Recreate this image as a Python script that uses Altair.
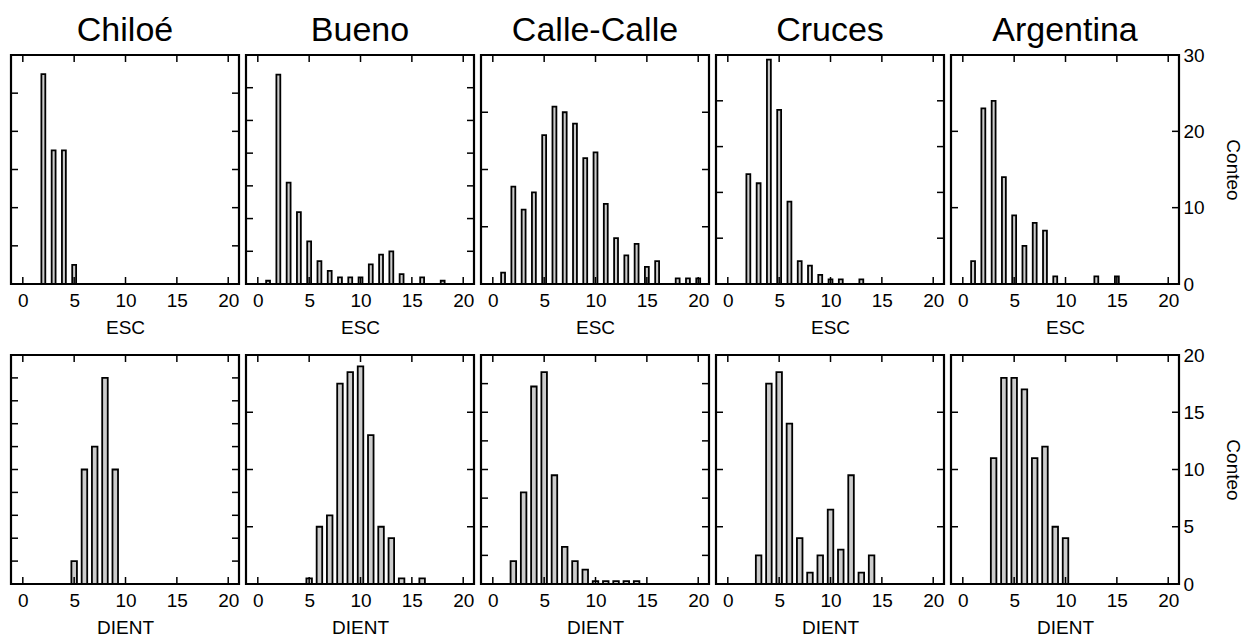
import altair as alt
import pandas as pd

sites = ["Chiloé", "Bueno", "Calle-Calle", "Cruces", "Argentina"]

# ESC histograms (value, count)
chiloe_esc_x = [2, 3, 4, 5]
chiloe_esc_n = [11, 7, 7, 1]
bueno_esc_x = [1, 2, 3, 4, 5, 6, 7, 8, 9, 10, 11, 12, 13, 14, 16, 18]
bueno_esc_n = [1, 64, 31, 22, 13, 7, 4, 2, 2, 2, 6, 9, 10, 3, 2, 1]
calle_esc_x = [1, 2, 3, 4, 5, 6, 7, 8, 9, 10, 11, 12, 13, 14, 15, 16, 18, 19, 20]
calle_esc_n = [2, 17, 13, 16, 26, 31, 30, 28, 22, 23, 14, 8, 5, 7, 3, 4, 1, 1, 1]
cruces_esc_x = [2, 3, 4, 5, 6, 7, 8, 9, 10, 11, 13]
cruces_esc_n = [24, 22, 49, 38, 18, 5, 4, 2, 1, 1, 1]
argent_esc_x = [1, 2, 3, 4, 5, 6, 7, 8, 9, 13, 15]
argent_esc_n = [3, 23, 24, 14, 9, 5, 8, 7, 1, 1, 1]

# DIENT histograms (value, count)
chiloe_dient_x = [5, 6, 7, 8, 9]
chiloe_dient_n = [1, 5, 6, 9, 5]
bueno_dient_x = [5, 6, 7, 8, 9, 10, 11, 12, 13, 14, 16]
bueno_dient_n = [1, 10, 12, 35, 37, 38, 26, 10, 8, 1, 1]
calle_dient_x = [2, 3, 4, 5, 6, 7, 8, 9, 10, 11, 12, 13, 14]
calle_dient_n = [8, 32, 69, 74, 38, 13, 8, 5, 1, 1, 1, 1, 1]
cruces_dient_x = [3, 4, 5, 6, 7, 8, 9, 10, 11, 12, 13, 14]
cruces_dient_n = [5, 35, 37, 28, 8, 2, 5, 13, 6, 19, 2, 5]
argent_dient_x = [3, 4, 5, 6, 7, 8, 9, 10]
argent_dient_n = [11, 18, 18, 17, 11, 12, 5, 4]

# per-panel y scales (max, tick step)
esc_ymax = [12, 70, 40, 50, 30]
esc_ystep = [2, 10, 10, 10, 10]
dient_ymax = [10, 40, 80, 40, 20]
dient_ystep = [1, 10, 10, 10, 5]

x_ticks = [0, 5, 10, 15, 20]
x_domain = [-1.15, 21.05]

W = 228
H = 229
FONT = "Liberation Sans"
TICK = 7

esc_data = [(chiloe_esc_x, chiloe_esc_n), (bueno_esc_x, bueno_esc_n), (calle_esc_x, calle_esc_n),
            (cruces_esc_x, cruces_esc_n), (argent_esc_x, argent_esc_n)]
dient_data = [(chiloe_dient_x, chiloe_dient_n), (bueno_dient_x, bueno_dient_n), (calle_dient_x, calle_dient_n),
              (cruces_dient_x, cruces_dient_n), (argent_dient_x, argent_dient_n)]


def panel(xs, ns, ymax, ystep, halfw, xtitle, title=None, right_axis=False):
    df = pd.DataFrame({"v": xs, "n": ns})
    df["lo"] = df["v"] - halfw
    df["hi"] = df["v"] + halfw
    df["z"] = 0
    yvals = list(range(0, ymax + 1, ystep))
    xscale = alt.Scale(domain=x_domain, nice=False, zero=False)
    yscale = alt.Scale(domain=[0, ymax], nice=False)
    xaxis = alt.Axis(values=x_ticks, ticks=False, domain=False, grid=False, labelPadding=7,
                     title=xtitle, titlePadding=8, labelFlush=False)
    if right_axis:
        yaxis = alt.Axis(orient="right", values=yvals, ticks=False, domain=False, grid=False,
                         labelPadding=4, title="Conteo", titlePadding=18, labelFlush=False)
    else:
        yaxis = None
    xt = pd.DataFrame({"t": x_ticks})
    yt = pd.DataFrame({"t": yvals})
    rule = dict(color="black", strokeWidth=1.5)
    bars = alt.Chart(df).mark_rect(fill="#cccccc", stroke="black", strokeWidth=1.8).encode(
        x=alt.X("lo:Q", scale=xscale, axis=xaxis),
        x2="hi:Q",
        y=alt.Y("n:Q", scale=yscale, axis=yaxis),
        y2="z:Q",
    )
    xt_top = alt.Chart(xt).mark_rule(**rule).encode(
        x=alt.X("t:Q", scale=xscale, axis=xaxis), y=alt.value(0), y2=alt.value(TICK))
    xt_bot = alt.Chart(xt).mark_rule(**rule).encode(
        x=alt.X("t:Q", scale=xscale, axis=xaxis), y=alt.value(H - TICK), y2=alt.value(H))
    yt_left = alt.Chart(yt).mark_rule(**rule).encode(
        y=alt.Y("t:Q", scale=yscale, axis=yaxis), x=alt.value(0), x2=alt.value(TICK))
    yt_right = alt.Chart(yt).mark_rule(**rule).encode(
        y=alt.Y("t:Q", scale=yscale, axis=yaxis), x=alt.value(W - TICK), x2=alt.value(W))
    ch = alt.layer(bars, xt_top, xt_bot, yt_left, yt_right).properties(width=W, height=H)
    if title is not None:
        off = -2 if right_axis else 6
        ch = ch.properties(title=alt.TitleParams(text=title, fontSize=34, font=FONT, fontWeight="normal",
                                                 color="black", anchor="middle", offset=off))
    return ch


panels = []
for i, site in enumerate(sites):
    xs, ns = esc_data[i]
    panels.append(panel(xs, ns, esc_ymax[i], esc_ystep[i], 0.19, "ESC", title=site, right_axis=(i == 4)))
for i, site in enumerate(sites):
    xs, ns = dient_data[i]
    panels.append(panel(xs, ns, dient_ymax[i], dient_ystep[i], 0.27, "DIENT", right_axis=(i == 4)))

chart = alt.concat(*panels, columns=5, spacing=alt.RowColnumber(row=71, column=7), bounds="flush").properties(
    padding={"left": 9, "top": 12, "right": 5, "bottom": 2},
    background="white",
).configure_view(stroke="black", strokeWidth=2.2).configure_axis(
    labelFont=FONT, labelFontSize=19, labelColor="black",
    titleFont=FONT, titleFontSize=19, titleFontWeight="normal", titleColor="black",
)

chart.save("out.html", embed_options={"renderer": "svg", "actions": False})
